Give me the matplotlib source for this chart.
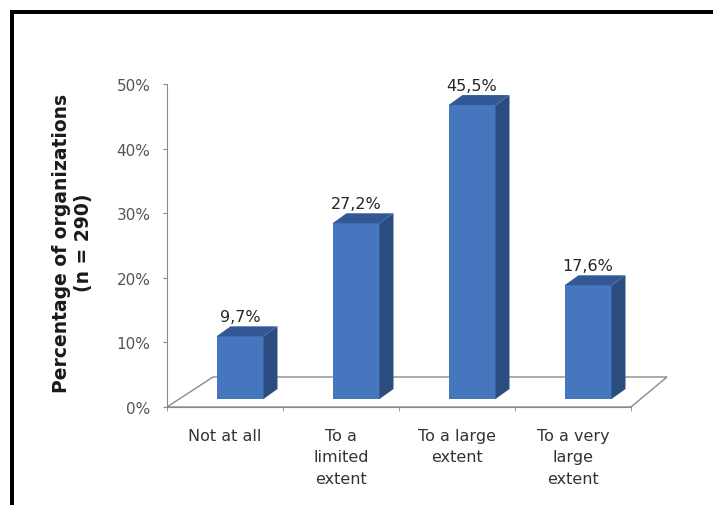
import matplotlib
matplotlib.use("Agg")
import matplotlib.pyplot as plt
from matplotlib.patches import Polygon
from matplotlib.lines import Line2D

# Survey results
categories = ["Not at all", "To a\nlimited\nextent", "To a large\nextent", "To a very\nlarge\nextent"]
values = [9.7, 27.2, 45.5, 17.6]
value_labels = ["9,7%", "27,2%", "45,5%", "17,6%"]
y_ticks = [0, 10, 20, 30, 40, 50]
y_tick_labels = ["0%", "10%", "20%", "30%", "40%", "50%"]

W, H, DPI = 713, 506, 100
fig = plt.figure(figsize=(W / DPI, H / DPI), dpi=DPI)
fig.patch.set_facecolor("white")

# plot area in pixels (left, right, bottom, top)
x0, x1, yb, yt = 167, 631, 408, 85
ax = fig.add_axes([x0 / W, (H - yb) / H, (x1 - x0) / W, (yb - yt) / H])
ax.set_xlim(-0.5, 3.5)
ax.set_ylim(0, 50)
ax.patch.set_alpha(0)

px_x = (x1 - x0) / 4.0       # pixels per category
px_y = (yb - yt) / 50.0      # pixels per percent


def dx(p):
    return p / px_x


def dy(p):
    return p / px_y


grey = "#8a8a8a"

# floor of the 3-D box
floor = Polygon([(-0.5, 0), (3.5, 0), (3.5 + dx(36), dy(30)), (-0.5 + dx(46), dy(30))],
                closed=True, facecolor="none", edgecolor=grey, lw=1.0,
                clip_on=False, zorder=1)
ax.add_patch(floor)

# 3-D columns
front_c = "#4676bd"
side_c = "#2b4c7e"
top_c = "#335896"
bw = dx(47)
shift_x, shift_y = dx(15), dy(8)
depth_x, depth_y = dx(14), dy(10)

for i, v in enumerate(values):
    left = i - bw / 2 + shift_x
    right = left + bw
    base = shift_y
    top = base + v
    front = Polygon([(left, base), (right, base), (right, top), (left, top)],
                    closed=True, facecolor=front_c, edgecolor="none",
                    clip_on=False, zorder=3)
    side = Polygon([(right, base), (right + depth_x, base + depth_y),
                    (right + depth_x, top + depth_y), (right, top)],
                   closed=True, facecolor=side_c, edgecolor="none",
                   clip_on=False, zorder=3)
    lid = Polygon([(left, top), (right, top), (right + depth_x, top + depth_y),
                   (left + depth_x, top + depth_y)],
                  closed=True, facecolor=top_c, edgecolor="none",
                  clip_on=False, zorder=3)
    for p in (front, side, lid):
        ax.add_patch(p)
    ax.text(left + bw / 2, top + dy(20), value_labels[i], ha="center", va="center",
            fontsize=11.5, color="#262626", zorder=4, clip_on=False)

# axes styling
for s in ("top", "right"):
    ax.spines[s].set_visible(False)
ax.spines["left"].set_color(grey)
ax.spines["bottom"].set_color(grey)
ax.spines["left"].set_zorder(2)
ax.spines["bottom"].set_zorder(2)

ax.set_yticks(y_ticks)
ax.set_yticklabels(y_tick_labels)
ax.tick_params(axis="y", direction="out", length=3, color=grey,
               labelcolor="#555555", labelsize=11, pad=9)

ax.set_xticks(range(len(categories)))
ax.set_xticklabels(categories, linespacing=1.55)
ax.set_xticks([-0.5, 0.5, 1.5, 2.5, 3.5], minor=True)
ax.tick_params(axis="x", which="major", length=0, labelcolor="#333333",
               labelsize=11.5, pad=15)
ax.tick_params(axis="x", which="minor", direction="out", length=3, color=grey)

fig.text(73 / W, 1 - 243 / H, "Percentage of organizations\n(n = 290)",
         rotation=90, ha="center", va="center", fontsize=13.5, fontweight="bold",
         color="#1a1a1a", linespacing=1.2)

# frame around the figure
lw_frame = 4 * 72 / DPI
fig.add_artist(Line2D([12 / W, 12 / W], [0, 1 - 13 / H], color="black",
                      lw=lw_frame, solid_capstyle="projecting"))
fig.add_artist(Line2D([12 / W, 1], [1 - 13 / H, 1 - 13 / H], color="black",
                      lw=lw_frame, solid_capstyle="projecting"))

fig.savefig("out.png", dpi=DPI, facecolor="white")
